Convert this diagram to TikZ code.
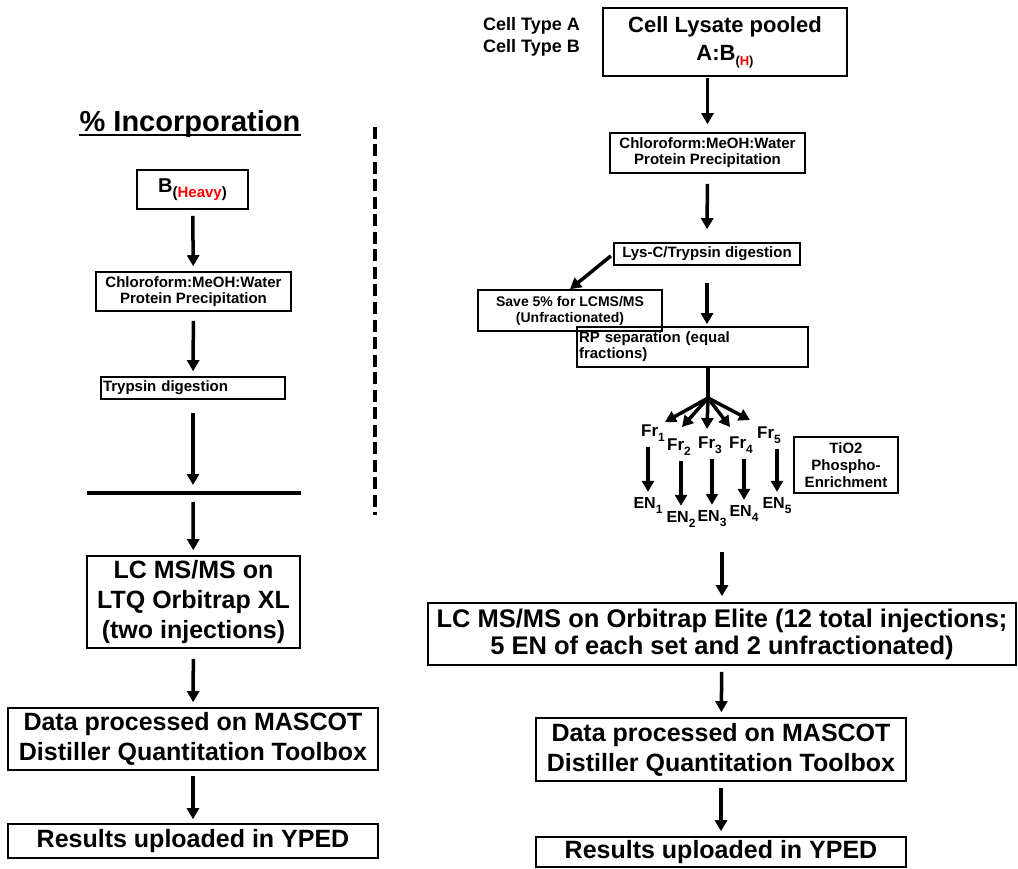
\documentclass[tikz,border=0pt]{standalone}
\usepackage{fontspec}
\setmainfont{Liberation Sans}
\usetikzlibrary{arrows.meta}
\newcommand{\lowsub}[2]{\raisebox{-5pt}{\fontsize{#1}{#1}\selectfont #2}}
\tikzset{
  box/.style={draw, line width=1.6pt, inner sep=1pt, align=center},
  bigtxt/.style={font=\fontsize{25}{30}\selectfont\bfseries},
  smalltxt/.style={font=\fontsize{15}{16}\selectfont\bfseries},
  fraction/.style={font=\fontsize{17}{17}\selectfont\bfseries, inner sep=1pt, anchor=base},
  arr/.style={line width=3.5pt, -{Triangle[width=12pt,length=11pt]}, shorten <=6pt, shorten >=5pt},
}
\begin{document}
\begin{tikzpicture}[x=1pt,y=-1pt]
      \useasboundingbox (0,0) rectangle (1018,869);
      % left column
      \node[font=\fontsize{29}{29}\selectfont\bfseries, inner sep=0, anchor=base] (inc) at (190,132) {\% Incorporation};
      \draw[line width=2pt] ([yshift=-3pt]inc.base west) -- ([yshift=-3pt]inc.base east);
      \node[box, font=\fontsize{20}{20}\selectfont\bfseries, minimum width=111pt, minimum height=39pt] (bh) at (192.5,189.5) {B\lowsub{15}{(\textcolor{red}{Heavy})}};
      \node[box, smalltxt, minimum width=195pt, minimum height=39pt] (cm1) at (193.5,291.5) {Chloroform:MeOH:Water\\Protein Precipitation};
      \node[box, smalltxt, text width=180pt, align=left, inner xsep=2pt, minimum height=22pt] (tr1) at (193,388) {Trypsin digestion};
      \coordinate (bl) at (87,493);
      \coordinate (bm) at (193,493);
      \coordinate (br) at (301,493);
      \draw[line width=4.5pt] (bl) -- (br);
      \node[box, bigtxt, minimum width=213pt, minimum height=92pt] (lc1) at (193.5,602) {LC MS/MS on\\LTQ Orbitrap XL\\(two injections)};
      \node[box, bigtxt, minimum width=370pt, minimum height=62pt] (dp1) at (193,739) {Data processed on MASCOT\\Distiller Quantitation Toolbox};
      \node[box, bigtxt, minimum width=370pt, minimum height=34pt] (rs1) at (193,841) {Results uploaded in YPED};
      \coordinate (d1) at (375,127);
      \coordinate (d2) at (375,515);
      \draw[line width=4.5pt, dash pattern=on 12pt off 5.5pt] (d1) -- (d2);
      % right column
      \node[font=\fontsize{18}{22.6}\selectfont\bfseries, align=left, inner sep=0, anchor=west] (ct) at (483,37) {Cell Type A\\Cell Type B};
      \node[box, font=\fontsize{22}{28}\selectfont\bfseries, minimum width=244pt, minimum height=68pt] (cl) at (725,42) {Cell Lysate pooled\\A:B\lowsub{13}{(\textcolor{red}{H})}};
      \node[box, smalltxt, minimum width=195pt, minimum height=40pt] (cm2) at (707.5,153) {Chloroform:MeOH:Water\\Protein Precipitation};
      \node[box, smalltxt, minimum width=186pt, minimum height=22pt] (ly) at (707,254) {Lys-C/Trypsin digestion};
      \node[box, font=\fontsize{14}{16}\selectfont\bfseries, minimum width=184pt, minimum height=41pt] (sv) at (570,310.5) {Save 5\% for LCMS/MS\\(Unfractionated)};
      \node[box, smalltxt, text width=227pt, align=left, inner xsep=2pt, minimum height=40pt] (rp) at (692.5,347) {RP separation (equal\\fractions)};
      \coordinate (hub) at (708,398);
      \coordinate (p1) at (665,422);
      \coordinate (p2) at (682,427);
      \coordinate (p3) at (707,429);
      \coordinate (p4) at (730,427);
      \coordinate (p5) at (750,420);
      \node[fraction] (f1) at (653,436) {Fr\lowsub{12}{1}};
      \node[fraction] (f2) at (679,450) {Fr\lowsub{12}{2}};
      \node[fraction] (f3) at (710,448) {Fr\lowsub{12}{3}};
      \node[fraction] (f4) at (741,448) {Fr\lowsub{12}{4}};
      \node[fraction] (f5) at (769,438) {Fr\lowsub{12}{5}};
      \node[fraction, font=\fontsize{16}{16}\selectfont\bfseries] (e1) at (648,508) {EN\lowsub{12}{1}};
      \node[fraction, font=\fontsize{16}{16}\selectfont\bfseries] (e2) at (681,522) {EN\lowsub{12}{2}};
      \node[fraction, font=\fontsize{16}{16}\selectfont\bfseries] (e3) at (712,521) {EN\lowsub{12}{3}};
      \node[fraction, font=\fontsize{16}{16}\selectfont\bfseries] (e4) at (744,516) {EN\lowsub{12}{4}};
      \node[fraction, font=\fontsize{16}{16}\selectfont\bfseries] (e5) at (777,508) {EN\lowsub{12}{5}};
      \node[box, font=\fontsize{15}{17}\selectfont\bfseries, minimum width=104pt, minimum height=56pt] (ti) at (846,465) {TiO2\\Phospho-\\Enrichment};
      \coordinate (s2) at (722,552);
      \node[box, font=\fontsize{25.5}{27}\selectfont\bfseries, minimum width=588pt, minimum height=62pt] (lc2) at (722,634) {LC MS/MS on Orbitrap Elite (12 total injections;\\5 EN of each set and 2 unfractionated)};
      \node[box, bigtxt, minimum width=370pt, minimum height=63pt] (dp2) at (721,749.5) {Data processed on MASCOT\\Distiller Quantitation Toolbox};
      \node[box, bigtxt, minimum width=370pt, minimum height=30pt] (rs2) at (721,852) {Results uploaded in YPED};
      \draw[line width=3.5pt] (rp.south -| hub) -- (hub);
      \begin{scope}[arr]
        \draw (bh) to (cm1);
        \draw[shorten <=9pt] (cm1) to (tr1);
        \draw[shorten <=13pt, shorten >=8pt] (tr1) to (bm);
        \draw[shorten <=9pt] (bm) to (lc1);
        \draw[shorten <=10pt] (lc1) to (dp1);
        \draw[shorten <=5pt, shorten >=4pt] (dp1) to (rs1);
        \draw[shorten <=1pt, shorten >=8pt] (cl.south -| cm2.north) to (cm2.north);
        \draw[shorten <=10pt, shorten >=13pt] (cm2) to (ly);
        \draw[shorten <=3pt, shorten >=0pt] (ly.west) to (sv.north);
        \draw[shorten <=17pt, shorten >=2pt] (ly.south) to (ly.south |- rp.north);
        \foreach \i in {1,...,5}
          \draw[shorten <=0pt, shorten >=0pt] (hub) to (p\i);
        \foreach \i in {1,...,5}
          \draw[shorten <=5pt, shorten >=4pt] (e\i.north |- f\i.south) to (e\i.north);
        \draw[shorten <=0pt, shorten >=6pt] (s2) to (lc2.north);
        \draw (lc2) to (dp2);
        \draw (dp2) to (rs2);
      \end{scope}
    \end{tikzpicture}
\end{document}
